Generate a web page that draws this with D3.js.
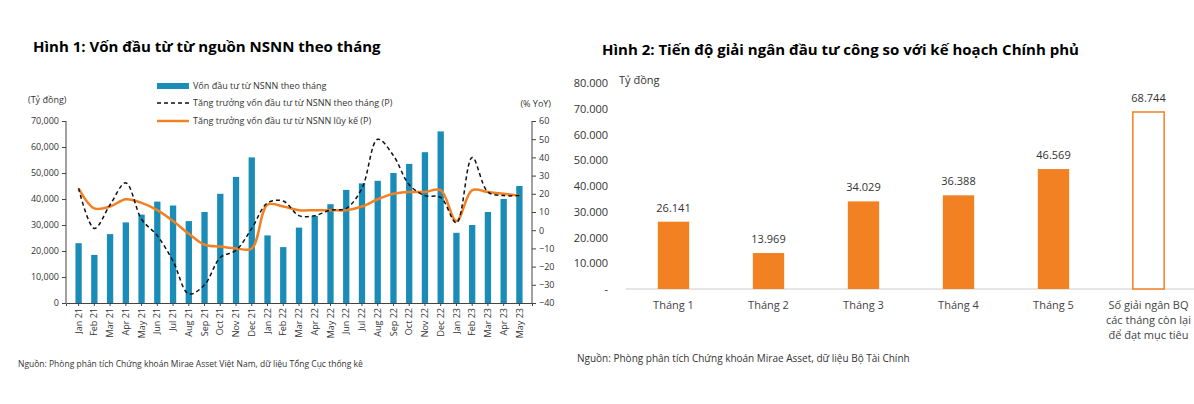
<!DOCTYPE html>
<html><head><meta charset="utf-8">
<script src="https://cdn.jsdelivr.net/npm/d3@7"></script>
<style>body{margin:0;background:#fff;font-family:"Open Sans",sans-serif}</style>
</head><body><svg id="c" width="1194" height="404"></svg>
<script>
const months=["Jan 21","Feb 21","Mar 21","Apr 21","May 21","Jun 21","Jul 21","Aug 21","Sep 21","Oct 21","Nov 21","Dec 21","Jan 22","Feb 22","Mar 22","Apr 22","May 22","Jun 22","Jul 22","Aug 22","Sep 22","Oct 22","Nov 22","Dec 22","Jan 23","Feb 23","Mar 23","Apr 23","May 23"];
const capital=[23000,18500,26500,31000,34000,39000,37500,31500,35000,42000,48500,56000,26000,21500,29000,33500,38000,43500,46000,47000,50000,53500,58000,66000,27000,30000,35000,40000,45000];
const growthMonthly=[23,1,14,26,6,-3,-17,-35,-30,-15,-11,1,15,16,8,8,11,12,23,50,41,25,19,18,4,40,21,19,19];
const growthCum=[23,12,13,17,15,11,5,-2,-8,-9,-10,-10,14,13,11,11,11,11,13,17,20,21,21,22,5,22,21,20,19];
const leftTicks=[0,10000,20000,30000,40000,50000,60000,70000];
const rightTicks=[-40,-30,-20,-10,0,10,20,30,40,50,60];
const cats2=["Tháng 1","Tháng 2","Tháng 3","Tháng 4","Tháng 5","Số giải ngân BQ|các tháng còn lại|để đạt mục tiêu"];
const vals2=[26141,13969,34029,36388,46569,68744];
const labels2=["26.141","13.969","34.029","36.388","46.569","68.744"];
const ticks2=[0,10000,20000,30000,40000,50000,60000,70000,80000];

const svg=d3.select("#c");
const blue="#1a8cb8", orange="#f28123";
// Chart 1
svg.append("text").attr("x",33).attr("y",52).attr("font-size",15).attr("font-weight","bold").text("Hình 1: Vốn đầu từ từ nguồn NSNN theo tháng");
const L=66,R=532;
const x=d3.scaleBand().domain(months).range([L,R]).padding(0.6);
const y=d3.scaleLinear().domain([0,70000]).range([303,121]);
const y2=d3.scaleLinear().domain([-40,60]).range([303,121]);
svg.append("g").selectAll("rect").data(capital).join("rect")
 .attr("x",(d,i)=>x(months[i])).attr("width",x.bandwidth()).attr("y",d=>y(d)).attr("height",d=>y(0)-y(d)).attr("fill",blue);
const fmt=d3.format(",");
const gl=svg.append("g").attr("transform",`translate(${L},0)`).call(d3.axisLeft(y).tickValues(leftTicks).tickFormat(fmt).tickSize(4));
const gr=svg.append("g").attr("transform",`translate(${R},0)`).call(d3.axisRight(y2).tickValues(rightTicks).tickSize(4));
const gb=svg.append("g").attr("transform","translate(0,303)").call(d3.axisBottom(x).tickSize(3));
gb.selectAll("text").attr("transform","rotate(-90)").attr("text-anchor","end").attr("dx","-5").attr("x",0).attr("y",0).attr("dy","0.35em");
[gl,gr,gb].forEach(g=>{g.selectAll("text").attr("font-size",9).attr("fill","#333").attr("font-family","Open Sans");g.selectAll("path,line").attr("stroke","#444")});
gl.select(".domain").attr("d","M0,303V121");
gr.select(".domain").attr("d","M0,303V121");
const line=d3.line().x((d,i)=>x(months[i])+x.bandwidth()/2).curve(d3.curveCatmullRom);
svg.append("path").datum(growthCum).attr("d",line.y(d=>y2(d))).attr("fill","none").attr("stroke",orange).attr("stroke-width",2.5);
svg.append("path").datum(growthMonthly).attr("d",line.y(d=>y2(d))).attr("fill","none").attr("stroke","#111").attr("stroke-width",1.5).attr("stroke-dasharray","4,3");
svg.append("text").attr("x",28).attr("y",103).attr("font-size",9).attr("fill","#333").text("(Tỷ đồng)");
svg.append("text").attr("x",551).attr("y",107).attr("font-size",9).attr("fill","#333").attr("text-anchor","end").text("(% YoY)");
const lg=svg.append("g").attr("font-size",9).attr("fill","#333");
lg.append("rect").attr("x",157).attr("y",83).attr("width",32).attr("height",6).attr("fill",blue);
lg.append("line").attr("x1",157).attr("x2",189).attr("y1",103).attr("y2",103).attr("stroke","#111").attr("stroke-width",1.5).attr("stroke-dasharray","4,3");
lg.append("line").attr("x1",157).attr("x2",189).attr("y1",121).attr("y2",121).attr("stroke",orange).attr("stroke-width",2.5);
[["Vốn đầu tư từ NSNN theo tháng",89],["Tăng trưởng vốn đầu tư từ NSNN theo tháng (P)",106],["Tăng trưởng vốn đầu tư từ NSNN lũy kế (P)",124]].forEach(([t,yy])=>lg.append("text").attr("x",193).attr("y",yy).text(t));
svg.append("text").attr("x",18).attr("y",367).attr("font-size",8.5).attr("fill","#333").text("Nguồn: Phòng phân tích Chứng khoán Mirae Asset Việt Nam, dữ liệu Tổng Cục thống kê");

// Chart 2
svg.append("text").attr("x",602).attr("y",55).attr("font-size",15).attr("font-weight","bold").text("Hình 2: Tiến độ giải ngân đầu tư công so với kế hoạch Chính phủ");
const xb=d3.scaleBand().domain(cats2).range([626,1196]).paddingInner(0.67).paddingOuter(0.335);
const yb=d3.scaleLinear().domain([0,80000]).range([289,83]);
svg.append("line").attr("x1",626).attr("x2",1194).attr("y1",yb(0)).attr("y2",yb(0)).attr("stroke","#ccc");
const ga=svg.append("g").attr("transform","translate(611,0)").call(d3.axisLeft(yb).tickValues(ticks2).tickSize(0).tickFormat(d=>d===0?"-":d3.format(",")(d).replace(/,/g,".")));
ga.select(".domain").remove();
ga.selectAll("text").attr("font-size",11).attr("fill","#333").attr("font-family","Open Sans");
svg.append("text").attr("x",619).attr("y",84).attr("font-size",11).attr("fill","#333").text("Tỷ đồng");
svg.append("g").selectAll("rect").data(vals2).join("rect")
 .attr("x",(d,i)=>xb(cats2[i])).attr("width",xb.bandwidth()).attr("y",d=>yb(d)).attr("height",d=>yb(0)-yb(d))
 .attr("fill",(d,i)=>i==5?"#fff":orange).attr("stroke",(d,i)=>i==5?orange:"none").attr("stroke-width",1.5);
svg.append("g").selectAll("text").data(vals2).join("text")
 .attr("x",(d,i)=>xb(cats2[i])+xb.bandwidth()/2).attr("y",d=>yb(d)-10).attr("text-anchor","middle").attr("font-size",11).attr("fill","#333").text((d,i)=>labels2[i]);
const cl=svg.append("g").attr("font-size",11).attr("fill","#444").attr("text-anchor","middle");
cats2.forEach(c=>{c.split("|").forEach((s,j)=>cl.append("text").attr("x",xb(c)+xb.bandwidth()/2).attr("y",309+j*15).text(s));});
svg.append("text").attr("x",577).attr("y",362).attr("font-size",10).attr("fill","#333").text("Nguồn: Phòng phân tích Chứng khoán Mirae Asset, dữ liệu Bộ Tài Chính");
</script></body></html>
